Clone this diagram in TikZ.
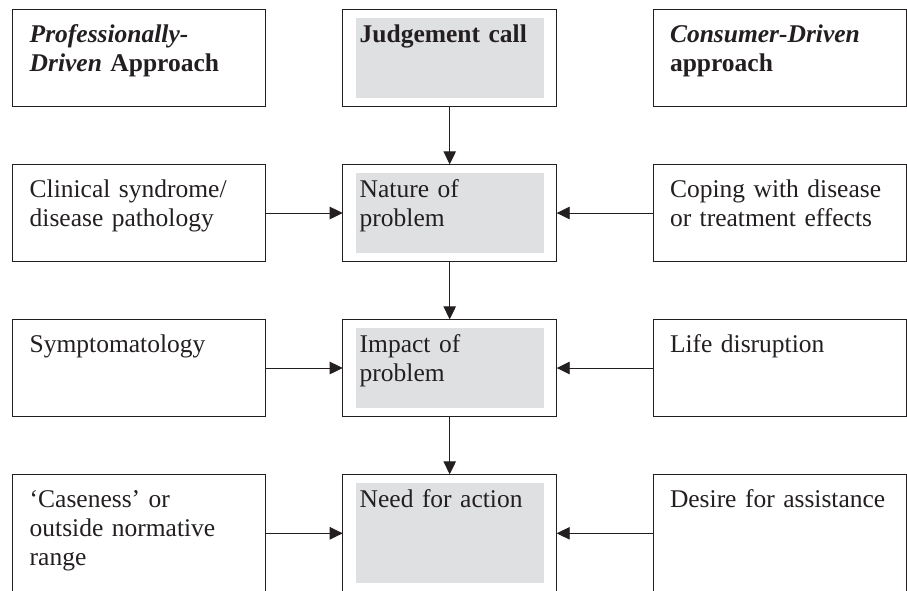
\documentclass[tikz,border=0pt]{standalone}
\usepackage{fontspec}
\setmainfont{Liberation Serif}
\usepackage{tikz}
\usetikzlibrary{positioning,arrows.meta}
\definecolor{ink}{RGB}{35,31,32}
\definecolor{panelgray}{RGB}{223,224,226}

\begin{document}
\begin{tikzpicture}[
    node distance=57.6pt,
    font=\fontsize{25.5pt}{29pt}\selectfont,
    box/.style={rectangle, draw=ink, line width=0.9pt, text=ink, align=left, outer sep=0pt,
        inner xsep=17pt, inner ysep=9pt, text height=24pt, text depth=55.4pt},
    side/.style={box, text width=219pt},
    centre/.style={box, text width=180pt,
        path picture={\fill[panelgray] ([shift={(13pt,-9pt)}]path picture bounding box.north west)
            rectangle ([shift={(-13pt,9pt)}]path picture bounding box.south east);}},
    tall/.style={text depth=76pt},
    flow/.style={-{Triangle[length=13pt,width=12.5pt]}, line width=0.9pt, draw=ink}
]
    \useasboundingbox (0,0) rectangle (907pt,-590pt);
    \fill[white] (0,0) rectangle (907pt,-590pt);
    \clip (0,0) rectangle (907pt,-590pt);

    % Header row
    \node[side, anchor=north west] (prof) at (12.7pt,-9.3pt)
        {\textbf{\textit{Professionally-}}\\\textbf{\textit{Driven} Approach}};
    \node[centre, right=77pt of prof] (judge) {\textbf{Judgement call}};
    \node[side, right=96.3pt of judge] (cons)
        {\textbf{\textit{Consumer-Driven}}\\\textbf{approach}};

    % Nature of problem
    \node[side, below=of prof] (clin) {Clinical syndrome/\\disease pathology};
    \node[centre, below=of judge] (nature) {Nature of\\problem};
    \node[side, below=of cons] (coping) {Coping with disease\\or treatment effects};

    % Impact of problem
    \node[side, below=of clin] (symp) {Symptomatology};
    \node[centre, below=of nature] (impact) {Impact of\\problem};
    \node[side, below=of coping] (life) {Life disruption};

    % Need for action (runs off the bottom)
    \node[side, tall, below=of symp] (case) {`Caseness' or\\outside normative\\range};
    \node[centre, tall, below=of impact] (need) {Need for action};
    \node[side, tall, below=of life] (desire) {Desire for assistance};

    % Edges
    \draw[flow] (judge) -- (nature);
    \draw[flow] (nature) -- (impact);
    \draw[flow] (impact) -- (need);
    \draw[flow] (clin) -- (nature);
    \draw[flow] (coping) -- (nature);
    \draw[flow] (symp) -- (impact);
    \draw[flow] (life) -- (impact);
    \draw[flow] (case) -- (need);
    \draw[flow] (desire) -- (need);
\end{tikzpicture}
\end{document}
